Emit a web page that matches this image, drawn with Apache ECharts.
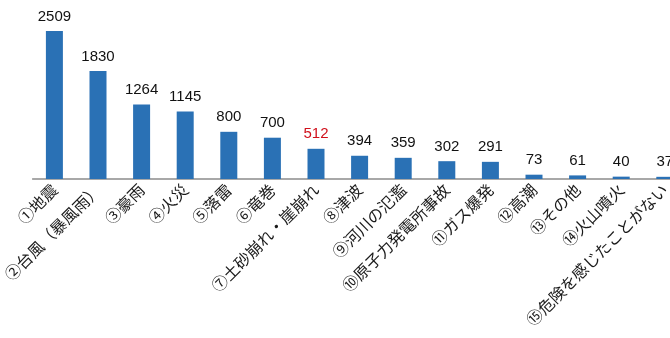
<!DOCTYPE html>
<html><head><meta charset="utf-8">
<script src="https://cdn.jsdelivr.net/npm/echarts@6/dist/echarts.min.js"></script>
<style>html,body{margin:0;padding:0;background:#fff;}#c{width:670px;height:338px;}</style>
</head><body><div id="c"></div>
<script>
const categories = ['①地震','②台風（暴風雨）','③豪雨','④火災','⑤落雷','⑥竜巻','⑦土砂崩れ・崖崩れ','⑧津波','⑨河川の氾濫','⑩原子力発電所事故','⑪ガス爆発','⑫高潮','⑬その他','⑭火山噴火','⑮危険を感じたことがない'];
const values = [2509,1830,1264,1145,800,700,512,394,359,302,291,73,61,40,37];
const highlightIndex = 6;

const chart = echarts.init(document.getElementById('c'));
chart.setOption({
  animation:false,
  grid:{left:32.6,right:-16.6,top:31,bottom:159,containLabel:false,outerBoundsMode:'none'},
  xAxis:{type:'category',data:categories,
    axisLine:{lineStyle:{color:'#8c8c8c',width:1.5}},
    axisTick:{show:false},
    axisLabel:{rotate:45,interval:0,fontSize:16,color:'#1a1a1a',margin:8,
      fontFamily:'"Noto Sans CJK JP", sans-serif'}},
  yAxis:{type:'value',min:0,max:2509,show:false,splitLine:{show:false}},
  series:[{type:'bar',barWidth:17,
    data:values.map((v,i)=>({value:v,label:{color:i===highlightIndex?'#d0101b':'#111'}})),
    itemStyle:{color:'#2a71b5'},
    label:{show:true,position:'top',distance:7,fontSize:15,
      fontFamily:'"Liberation Sans Narrow","Liberation Sans",Arial,sans-serif',color:'#111'}
  }]
});
</script></body></html>
